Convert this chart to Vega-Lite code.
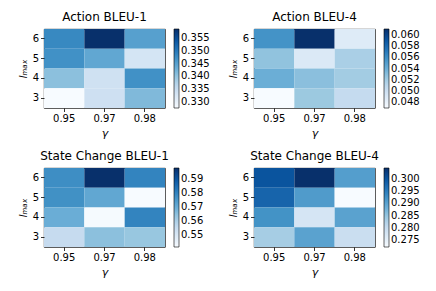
{
  "$schema": "https://vega.github.io/schema/vega-lite/v6.json",
  "background": "white",
  "padding": {"left": 16, "top": 10, "right": 5, "bottom": 5},
  "config": {
    "font": "DejaVu Sans",
    "view": {"stroke": "black", "strokeWidth": 0.8},
    "title": {"fontSize": 12, "fontWeight": "normal", "color": "black", "offset": 5},
    "axis": {
      "grid": false, "domain": false, "tickColor": "black", "tickSize": 3.5, "tickWidth": 0.8,
      "labelFontSize": 10, "labelColor": "black", "labelPadding": 2,
      "titleFontSize": 11, "titleColor": "black", "titleFontWeight": "normal", "titleFontStyle": "italic"
    },
    "legend": {
      "gradientLength": 79, "gradientThickness": 5, "offset": 9, "labelFontSize": 10,
      "labelColor": "black", "labelOffset": 4, "gradientStrokeColor": "black", "gradientStrokeWidth": 0.6
    }
  },
  "data": {"values": [
    {"m": "Action BLEU-1", "g": "0.95", "l": 6, "v": 0.348},
    {"m": "Action BLEU-1", "g": "0.97", "l": 6, "v": 0.3585},
    {"m": "Action BLEU-1", "g": "0.98", "l": 6, "v": 0.345},
    {"m": "Action BLEU-1", "g": "0.95", "l": 5, "v": 0.347},
    {"m": "Action BLEU-1", "g": "0.97", "l": 5, "v": 0.344},
    {"m": "Action BLEU-1", "g": "0.98", "l": 5, "v": 0.333},
    {"m": "Action BLEU-1", "g": "0.95", "l": 4, "v": 0.3406},
    {"m": "Action BLEU-1", "g": "0.97", "l": 4, "v": 0.3338},
    {"m": "Action BLEU-1", "g": "0.98", "l": 4, "v": 0.347},
    {"m": "Action BLEU-1", "g": "0.95", "l": 3, "v": 0.3276},
    {"m": "Action BLEU-1", "g": "0.97", "l": 3, "v": 0.334},
    {"m": "Action BLEU-1", "g": "0.98", "l": 3, "v": 0.3415},
    {"m": "Action BLEU-4", "g": "0.95", "l": 6, "v": 0.0557},
    {"m": "Action BLEU-4", "g": "0.97", "l": 6, "v": 0.0611},
    {"m": "Action BLEU-4", "g": "0.98", "l": 6, "v": 0.0487},
    {"m": "Action BLEU-4", "g": "0.95", "l": 5, "v": 0.0527},
    {"m": "Action BLEU-4", "g": "0.97", "l": 5, "v": 0.0489},
    {"m": "Action BLEU-4", "g": "0.98", "l": 5, "v": 0.0517},
    {"m": "Action BLEU-4", "g": "0.95", "l": 4, "v": 0.054},
    {"m": "Action BLEU-4", "g": "0.97", "l": 4, "v": 0.0529},
    {"m": "Action BLEU-4", "g": "0.98", "l": 4, "v": 0.052},
    {"m": "Action BLEU-4", "g": "0.95", "l": 3, "v": 0.0469},
    {"m": "Action BLEU-4", "g": "0.97", "l": 3, "v": 0.0523},
    {"m": "Action BLEU-4", "g": "0.98", "l": 3, "v": 0.0505},
    {"m": "State Change BLEU-1", "g": "0.95", "l": 6, "v": 0.5778},
    {"m": "State Change BLEU-1", "g": "0.97", "l": 6, "v": 0.5982},
    {"m": "State Change BLEU-1", "g": "0.98", "l": 6, "v": 0.58},
    {"m": "State Change BLEU-1", "g": "0.95", "l": 5, "v": 0.5772},
    {"m": "State Change BLEU-1", "g": "0.97", "l": 5, "v": 0.5716},
    {"m": "State Change BLEU-1", "g": "0.98", "l": 5, "v": 0.5415},
    {"m": "State Change BLEU-1", "g": "0.95", "l": 4, "v": 0.57},
    {"m": "State Change BLEU-1", "g": "0.97", "l": 4, "v": 0.542},
    {"m": "State Change BLEU-1", "g": "0.98", "l": 4, "v": 0.58},
    {"m": "State Change BLEU-1", "g": "0.95", "l": 3, "v": 0.5557},
    {"m": "State Change BLEU-1", "g": "0.97", "l": 3, "v": 0.5653},
    {"m": "State Change BLEU-1", "g": "0.98", "l": 3, "v": 0.5636},
    {"m": "State Change BLEU-4", "g": "0.95", "l": 6, "v": 0.3},
    {"m": "State Change BLEU-4", "g": "0.97", "l": 6, "v": 0.3044},
    {"m": "State Change BLEU-4", "g": "0.98", "l": 6, "v": 0.2906},
    {"m": "State Change BLEU-4", "g": "0.95", "l": 5, "v": 0.298},
    {"m": "State Change BLEU-4", "g": "0.97", "l": 5, "v": 0.291},
    {"m": "State Change BLEU-4", "g": "0.98", "l": 5, "v": 0.2722},
    {"m": "State Change BLEU-4", "g": "0.95", "l": 4, "v": 0.2922},
    {"m": "State Change BLEU-4", "g": "0.97", "l": 4, "v": 0.2777},
    {"m": "State Change BLEU-4", "g": "0.98", "l": 4, "v": 0.29},
    {"m": "State Change BLEU-4", "g": "0.95", "l": 3, "v": 0.2835},
    {"m": "State Change BLEU-4", "g": "0.97", "l": 3, "v": 0.29},
    {"m": "State Change BLEU-4", "g": "0.98", "l": 3, "v": 0.2796}
  ]},
  "columns": 2,
  "spacing": {"row": 10, "column": 15},
  "resolve": {"scale": {"color": "independent"}},
  "concat": [
    {
      "title": "Action BLEU-1",
      "width": 121, "height": 79,
      "transform": [{"filter": "datum.m === 'Action BLEU-1'"}],
      "mark": {"type": "rect"},
      "encoding": {
        "x": {"field": "g", "type": "ordinal", "title": "γ", "axis": {"labelAngle": 0}},
        "y": {"field": "l", "type": "ordinal", "sort": "descending", "title": "lₘₐₓ"},
        "color": {"field": "v", "type": "quantitative",
          "scale": {"domain": [0.3276, 0.33146, 0.33533, 0.33919, 0.34305, 0.34691, 0.35078, 0.35464, 0.3585],
            "range": ["#f7fbff", "#deebf7", "#c6dbef", "#9ecae1", "#6baed6", "#4292c6", "#2171b5", "#08519c", "#08306b"]},
          "legend": {"title": null, "format": ".3f", "values": [0.330, 0.335, 0.340, 0.345, 0.350, 0.355]}}
      }
    },
    {
      "title": "Action BLEU-4",
      "width": 121, "height": 79,
      "transform": [{"filter": "datum.m === 'Action BLEU-4'"}],
      "mark": {"type": "rect"},
      "encoding": {
        "x": {"field": "g", "type": "ordinal", "title": "γ", "axis": {"labelAngle": 0}},
        "y": {"field": "l", "type": "ordinal", "sort": "descending", "title": "lₘₐₓ"},
        "color": {"field": "v", "type": "quantitative",
          "scale": {"domain": [0.0469, 0.048675, 0.05045, 0.052225, 0.054, 0.055775, 0.05755, 0.059325, 0.0611],
            "range": ["#f7fbff", "#deebf7", "#c6dbef", "#9ecae1", "#6baed6", "#4292c6", "#2171b5", "#08519c", "#08306b"]},
          "legend": {"title": null, "format": ".3f", "values": [0.048, 0.050, 0.052, 0.054, 0.056, 0.058, 0.060]}}
      }
    },
    {
      "title": "State Change BLEU-1",
      "width": 121, "height": 79,
      "transform": [{"filter": "datum.m === 'State Change BLEU-1'"}],
      "mark": {"type": "rect"},
      "encoding": {
        "x": {"field": "g", "type": "ordinal", "title": "γ", "axis": {"labelAngle": 0}},
        "y": {"field": "l", "type": "ordinal", "sort": "descending", "title": "lₘₐₓ"},
        "color": {"field": "v", "type": "quantitative",
          "scale": {"domain": [0.5415, 0.5485875, 0.555675, 0.5627625, 0.56985, 0.5769375, 0.584025, 0.5911125, 0.5982],
            "range": ["#f7fbff", "#deebf7", "#c6dbef", "#9ecae1", "#6baed6", "#4292c6", "#2171b5", "#08519c", "#08306b"]},
          "legend": {"title": null, "format": ".2f", "values": [0.55, 0.56, 0.57, 0.58, 0.59]}}
      }
    },
    {
      "title": "State Change BLEU-4",
      "width": 121, "height": 79,
      "transform": [{"filter": "datum.m === 'State Change BLEU-4'"}],
      "mark": {"type": "rect"},
      "encoding": {
        "x": {"field": "g", "type": "ordinal", "title": "γ", "axis": {"labelAngle": 0}},
        "y": {"field": "l", "type": "ordinal", "sort": "descending", "title": "lₘₐₓ"},
        "color": {"field": "v", "type": "quantitative",
          "scale": {"domain": [0.2722, 0.276225, 0.28025, 0.284275, 0.2883, 0.292325, 0.29635, 0.300375, 0.3044],
            "range": ["#f7fbff", "#deebf7", "#c6dbef", "#9ecae1", "#6baed6", "#4292c6", "#2171b5", "#08519c", "#08306b"]},
          "legend": {"title": null, "format": ".3f", "values": [0.275, 0.280, 0.285, 0.290, 0.295, 0.300]}}
      }
    }
  ]
}
